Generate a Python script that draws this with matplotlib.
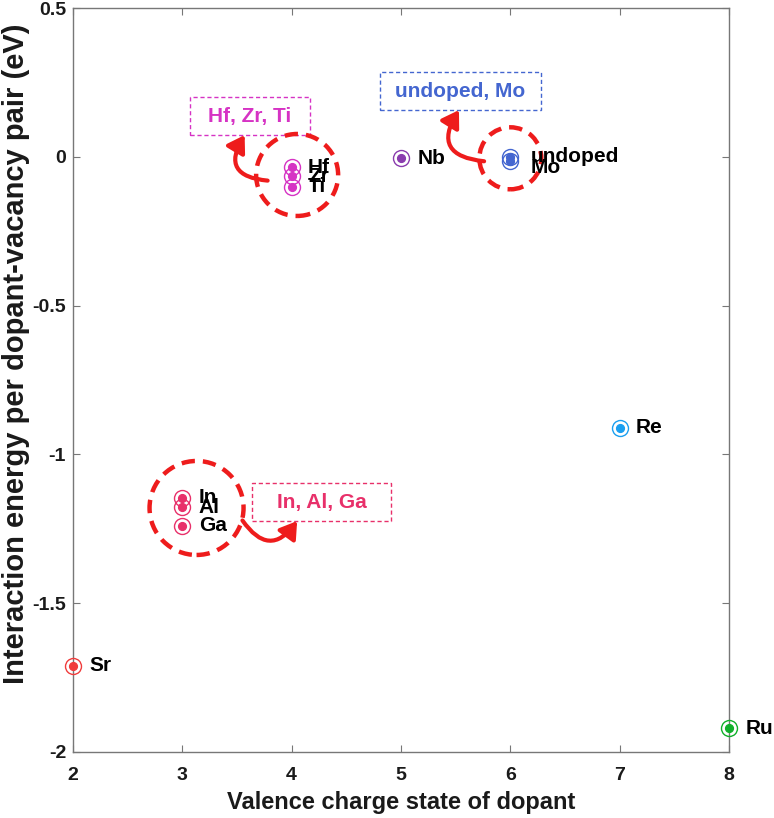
import matplotlib
matplotlib.use("Agg")
import matplotlib.pyplot as plt
from matplotlib.patches import Ellipse, Rectangle, FancyArrowPatch

plt.rcParams['font.family'] = ['Liberation Sans', 'DejaVu Sans']
plt.rcParams['font.weight'] = 'bold'
plt.rcParams['axes.unicode_minus'] = False

## data
dopants = ['Sr', 'In', 'Al', 'Ga', 'Hf', 'Zr', 'Ti', 'Nb', 'undoped', 'Mo', 'Re', 'Ru']
valence = [2, 3, 3, 3, 4, 4, 4, 5, 6, 6, 7, 8]
energy = [-1.71, -1.146, -1.177, -1.24, -0.035, -0.065, -0.10, -0.005, 0.0, -0.015, -0.91, -1.92]

group_color = {
    'Sr': '#f03c3c', 'In': '#e8306a', 'Al': '#e8306a', 'Ga': '#e8306a',
    'Hf': '#d633c4', 'Zr': '#d633c4', 'Ti': '#d633c4', 'Nb': '#8a3cae',
    'undoped': '#4466d0', 'Mo': '#4466d0', 'Re': '#1a9ff0', 'Ru': '#10b02a',
}

xticks = [2, 3, 4, 5, 6, 7, 8]
yticks = [0.5, 0, -0.5, -1, -1.5, -2]

## figure
fig = plt.figure(figsize=(7.74, 8.18), dpi=100)
ax = fig.add_axes([0.0943, 0.0807, 0.8476, 0.9095])

for d, xv, yv in zip(dopants, valence, energy):
    c = group_color[d]
    ax.plot(xv, yv, 'o', ms=11.5, mfc='none', mec=c, mew=1.0, clip_on=False, zorder=4)
    ax.plot(xv, yv, 'o', ms=5.6, mfc=c, mec=c, clip_on=False, zorder=5)
    dx = 0.19 if d in ('undoped', 'Mo') else 0.15
    dy = -0.02 if d == 'Mo' else 0.0
    ax.text(xv + dx, yv + dy, d, fontsize=15, fontweight='bold', va='center', ha='left', zorder=6)

# dashed red circles (pixel radius -> data units)
sx = 6 / 656.0
sy = 2.5 / 744.0
red = '#ee1c1c'
for cx, cy, r in [(4.05, -0.061, 41), (6.0, -0.005, 31), (3.13, -1.18, 47)]:
    ax.add_patch(Ellipse((cx, cy), 2 * r * sx, 2 * r * sy, fill=False, ec=red, lw=3.2,
                         ls=(0, (3, 1.8)), zorder=3))

# annotation boxes
boxes = [
    ('Hf, Zr, Ti', 3.07, 4.17, 0.073, 0.201, '#d633c4'),
    ('undoped, Mo', 4.81, 6.28, 0.157, 0.285, '#4466d0'),
    ('In, Al, Ga', 3.64, 4.91, -1.224, -1.096, '#e8306a'),
]
for txt, x0, x1, y0, y1, c in boxes:
    ax.add_patch(Rectangle((x0, y0), x1 - x0, y1 - y0, fill=True, fc='white', ec=c, lw=1,
                           ls=(0, (3, 2)), zorder=2))
    ax.text((x0 + x1) / 2, (y0 + y1) / 2, txt, color=c, fontsize=15, fontweight='bold',
            ha='center', va='center', zorder=3)

# curved arrows
arrows = [
    ((3.78, -0.08), (3.57, 0.073), -0.8),
    ((5.76, -0.015), (5.53, 0.157), -0.8),
    ((3.55, -1.222), (4.05, -1.224), 0.7),
]
for a, b, rad in arrows:
    ax.add_patch(FancyArrowPatch(a, b, connectionstyle='arc3,rad=%g' % rad,
                                 arrowstyle='-|>,head_width=0.35,head_length=0.55',
                                 mutation_scale=18, color=red, lw=3, zorder=3,
                                 shrinkA=0, shrinkB=0))

ax.set_xlim(2, 8)
ax.set_ylim(-2, 0.5)
ax.tick_params(direction='in', top=True, right=True, length=5, width=0.8,
               colors='#777777', labelcolor='#1a1a1a')
ax.tick_params(axis='x', pad=11)
ax.tick_params(axis='y', pad=5)
ax.set_xticks(xticks)
ax.set_yticks(yticks)
ax.set_xticklabels(['%g' % t for t in xticks], fontsize=14, fontweight='bold')
ax.set_yticklabels(['%g' % t for t in yticks], fontsize=14, fontweight='bold')
for s in ax.spines.values():
    s.set_color('#777777')
    s.set_linewidth(1.0)

ax.set_xlabel('Valence charge state of dopant', fontsize=17, fontweight='bold', color='#1a1a1a')
ax.set_ylabel('Interaction energy per dopant-vacancy pair (eV)', fontsize=21, fontweight='bold',
              color='#1a1a1a')
ax.xaxis.set_label_coords(0.5, -0.052)
ax.yaxis.set_label_coords(-0.066, 0.535)

fig.savefig('out.png', dpi=100)
